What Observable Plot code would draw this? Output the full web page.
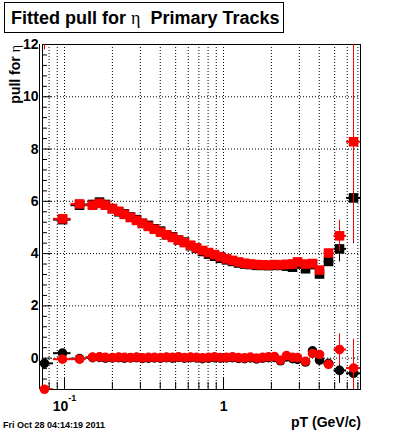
<!DOCTYPE html>
<html><head><meta charset="utf-8">
<script src="https://cdn.jsdelivr.net/npm/d3@7"></script>
<script src="https://cdn.jsdelivr.net/npm/@observablehq/plot@0.6"></script>
<style>
html,body{margin:0;padding:0;background:#fff;}
#chart{position:relative;width:400px;height:433px;}
</style></head><body><div id="chart"></div>
<script>
// ---- data ----
const pT = [0.0748, 0.0971, 0.1243, 0.150, 0.166, 0.181, 0.200, 0.219, 0.238, 0.260,
  0.284, 0.309, 0.337, 0.368, 0.402, 0.438, 0.478, 0.521, 0.568, 0.620,
  0.676, 0.738, 0.805, 0.878, 0.957, 1.044, 1.139, 1.243, 1.356, 1.478,
  1.613, 1.759, 1.919, 2.093, 2.283, 2.490, 2.716, 2.921, 3.280, 3.628,
  4.016, 4.575, 5.365, 6.571];

const sigmaRed = [14, 5.33, 5.9, 5.85, 5.92, 5.85, 5.72, 5.62, 5.5, 5.38,
  5.27, 5.15, 5.04, 4.93, 4.82, 4.72, 4.62, 4.52, 4.42, 4.32,
  4.22, 4.12, 4.04, 3.96, 3.88, 3.8, 3.74, 3.68, 3.63, 3.6,
  3.58, 3.57, 3.56, 3.58, 3.57, 3.59, 3.6, 3.68, 3.6, 3.62,
  3.37, 4.02, 4.68, 8.28];
const sigmaRedErr = [2.2, 0.05, 0.04, 0.03, 0.03, 0.03, 0.03, 0.03, 0.03, 0.03,
  0.03, 0.03, 0.03, 0.03, 0.03, 0.03, 0.03, 0.03, 0.03, 0.03,
  0.03, 0.03, 0.03, 0.03, 0.03, 0.03, 0.03, 0.03, 0.03, 0.03,
  0.03, 0.03, 0.03, 0.04, 0.04, 0.04, 0.05, 0.05, 0.06, 0.06,
  0.1, 0.15, 0.6, 3.85];

const sigmaBlack = [14, 5.3, 5.85, 5.88, 5.97, 5.88, 5.72, 5.6, 5.52, 5.4,
  5.3, 5.16, 5.08, 4.95, 4.86, 4.72, 4.64, 4.52, 4.44, 4.3,
  4.2, 4.08, 3.98, 3.9, 3.82, 3.76, 3.7, 3.64, 3.6, 3.58,
  3.55, 3.55, 3.54, 3.55, 3.55, 3.52, 3.48, 3.6, 3.42, 3.58,
  3.22, 3.7, 4.18, 6.13];
const sigmaBlackErr = [2.2, 0.05, 0.04, 0.03, 0.03, 0.03, 0.03, 0.03, 0.03, 0.03,
  0.03, 0.03, 0.03, 0.03, 0.03, 0.03, 0.03, 0.03, 0.03, 0.03,
  0.03, 0.03, 0.03, 0.03, 0.03, 0.03, 0.03, 0.03, 0.03, 0.03,
  0.03, 0.03, 0.03, 0.04, 0.04, 0.04, 0.05, 0.05, 0.06, 0.06,
  0.1, 0.15, 0.5, 1.75];

const meanRed = [-1.19, -0.04, -0.04, 0.04, 0.05, 0.03, 0.02, 0.04, 0.03, 0.02,
  0.04, 0.01, 0.03, 0.03, 0.02, 0.04, 0.03, 0.05, 0.02, 0.04,
  0.03, 0.01, 0.03, 0.05, 0.02, 0.03, 0.05, 0.02, 0.01, 0.04,
  0.0, 0.03, 0.05, 0.06, -0.08, 0.1, 0.03, 0.02, -0.12, 0.18,
  0.14, -0.24, 0.33, -0.38];
const meanRedErr = [0.05, 0.05, 0.04, 0.03, 0.03, 0.03, 0.03, 0.03, 0.03, 0.03,
  0.03, 0.03, 0.03, 0.03, 0.03, 0.03, 0.03, 0.03, 0.03, 0.03,
  0.03, 0.03, 0.03, 0.03, 0.03, 0.03, 0.03, 0.03, 0.03, 0.03,
  0.03, 0.03, 0.03, 0.04, 0.04, 0.04, 0.05, 0.05, 0.06, 0.06,
  0.1, 0.15, 0.6, 1.1];

const meanBlack = [-0.2, 0.19, -0.02, 0.02, 0.03, 0.0, 0.01, 0.02, 0.0, 0.01,
  0.02, -0.01, 0.0, 0.01, 0.0, 0.02, 0.0, 0.03, 0.0, 0.02,
  0.01, -0.02, 0.0, 0.02, 0.0, 0.01, 0.02, -0.01, -0.02, 0.01,
  -0.03, 0.0, 0.02, 0.03, -0.1, 0.05, -0.02, -0.05, -0.15, 0.28,
  -0.08, -0.2, -0.47, -0.58];
const meanBlackErr = [0.05, 0.05, 0.04, 0.03, 0.03, 0.03, 0.03, 0.03, 0.03, 0.03,
  0.03, 0.03, 0.03, 0.03, 0.03, 0.03, 0.03, 0.03, 0.03, 0.03,
  0.03, 0.03, 0.03, 0.03, 0.03, 0.03, 0.03, 0.03, 0.03, 0.03,
  0.03, 0.03, 0.03, 0.04, 0.04, 0.04, 0.05, 0.05, 0.06, 0.06,
  0.1, 0.15, 0.5, 0.9];

const xDomain = [0.0727, 7.27];
const yDomain = [-1.2, 12];
const xGridTicks = [0.08, 0.09, 0.1, 0.2, 0.3, 0.4, 0.5, 0.6, 0.7, 0.8, 0.9, 1, 2, 3, 4, 5, 6, 7];
const xMajorTicks = [0.1, 1];
const xMinorTicks = [0.08, 0.09, 0.2, 0.3, 0.4, 0.5, 0.6, 0.7, 0.8, 0.9, 2, 3, 4, 5, 6, 7];
const yMajorTicks = [0, 2, 4, 6, 8, 10, 12];
const yMinorTicks = [-0.8, -0.4, 0.4, 0.8, 1.2, 1.6, 2.4, 2.8, 3.2, 3.6, 4.4, 4.8, 5.2, 5.6,
  6.4, 6.8, 7.2, 7.6, 8.4, 8.8, 9.2, 9.6, 10.4, 10.8, 11.2, 11.6];

const titleText = ["Fitted pull for ", "\u03b7", "  Primary Tracks"];
const yLabel = ["pull for ", "\u03b7"];
const xLabel = "pT (GeV/c)";
const footer = "Fri Oct 28 04:14:19 2011";

// ---- bins (edges between neighbouring centres, in log space) ----
const n = pT.length;
const hiEdge = pT.map((x, i) => i < n - 1 ? Math.sqrt(x * pT[i + 1]) : null);
const loEdge = pT.map((x, i) => i > 0 ? Math.sqrt(pT[i - 1] * x) : null);
loEdge[0] = pT[0] * pT[0] / hiEdge[0];
hiEdge[n - 1] = pT[n - 1] * pT[n - 1] / loEdge[n - 1];

const series = (vals, errs) => pT.map((x, i) => ({x, lo: loEdge[i], hi: hiEdge[i], v: vals[i], e: errs[i]}));
const sigB = series(sigmaBlack, sigmaBlackErr);
const sigR = series(sigmaRed, sigmaRedErr);
const meanB = series(meanBlack, meanBlackErr);
const meanR = series(meanRed, meanRedErr);

function errMarks(data, color, symbol, r) {
  return [
    Plot.ruleX(data, {x: "x", y1: d => d.v - d.e, y2: d => d.v + d.e, stroke: color, strokeWidth: 1, clip: true}),
    Plot.ruleY(data, {y: "v", x1: "lo", x2: "hi", stroke: color, strokeWidth: 2, clip: true}),
    Plot.dot(data, {x: "x", y: "v", symbol, r, fill: color, stroke: "none"})
  ];
}

const plot = Plot.plot({
  width: 400, height: 433,
  marginLeft: 42, marginRight: 40, marginTop: 44, marginBottom: 44,
  x: {type: "log", domain: xDomain, label: null},
  y: {domain: yDomain, label: null},
  style: {fontFamily: "'Liberation Sans', Arial, sans-serif", fontSize: "14px", fontWeight: "bold", color: "black", background: "white", overflow: "visible"},
  marks: [
    Plot.gridX(xGridTicks, {stroke: "black", strokeOpacity: 1, strokeDasharray: "1,2"}),
    Plot.gridY(yMajorTicks, {stroke: "black", strokeOpacity: 1, strokeDasharray: "1,2"}),
    Plot.frame({stroke: "black"}),
    Plot.ruleX([xDomain[0]], {dx: -3, stroke: "black"}),
    Plot.axisY(yMajorTicks, {anchor: "left", tickSize: 0, tickPadding: 4, label: null}),
    Plot.axisY(yMajorTicks, {anchor: "left", tickSize: -9, fill: "none", label: null}),
    Plot.axisY(yMinorTicks, {anchor: "left", tickSize: -5, fill: "none", label: null}),
    Plot.axisX(xMajorTicks, {anchor: "bottom", tickSize: 0, tickPadding: 12, tickFormat: d => d === 1 ? "1" : "10", label: null}),
    Plot.axisX(xMajorTicks, {anchor: "bottom", tickSize: -11, fill: "none", label: null}),
    Plot.axisX(xMinorTicks, {anchor: "bottom", tickSize: -7, fill: "none", label: null}),
    ...errMarks(sigB, "black", "square", 5.4),
    ...errMarks(meanB, "black", "circle", 4.8),
    ...errMarks(sigR, "red", "square", 5.4),
    ...errMarks(meanR, "red", "circle", 4.8)
  ]
});
document.getElementById("chart").appendChild(plot);

// superscript for 10^-1
plot.querySelectorAll('[aria-label="x-axis tick label"] text').forEach(t => {
  if (t.textContent === "10") {
    const ts = document.createElementNS("http://www.w3.org/2000/svg", "tspan");
    ts.setAttribute("font-size", "9");
    ts.setAttribute("dy", "-10");
    ts.textContent = "-1";
    t.appendChild(ts);
  }
});

// text decorations
const svg = d3.select(plot);
const deco = svg.append("g").attr("font-family", "'Liberation Sans', Arial, sans-serif").attr("font-weight", "bold").attr("fill", "black").attr("text-anchor", "start");
deco.append("rect").attr("x", 4.5).attr("y", 2.5).attr("width", 279).attr("height", 30).attr("fill", "white").attr("stroke", "black");
const tt = deco.append("text").attr("x", 11).attr("y", 24).attr("font-size", 18).attr("text-anchor", "start").style("white-space", "pre");
tt.append("tspan").text(titleText[0]);
tt.append("tspan").attr("font-family", "'Liberation Serif', 'DejaVu Serif', serif").attr("font-weight", "normal").text(titleText[1]);
tt.append("tspan").text(titleText[2]);

const yl = deco.append("text").attr("transform", "translate(20,45) rotate(-90)").attr("text-anchor", "end").attr("font-size", 14).style("white-space", "pre");
yl.append("tspan").text(yLabel[0]);
yl.append("tspan").attr("font-family", "'Liberation Serif', 'DejaVu Serif', serif").attr("font-weight", "normal").text(yLabel[1]);

deco.append("text").attr("x", 361).attr("y", 427).attr("text-anchor", "end").attr("font-size", 14).text(xLabel);
deco.append("text").attr("x", 3).attr("y", 428).attr("text-anchor", "start").attr("font-size", 9).text(footer);
</script></body></html>
